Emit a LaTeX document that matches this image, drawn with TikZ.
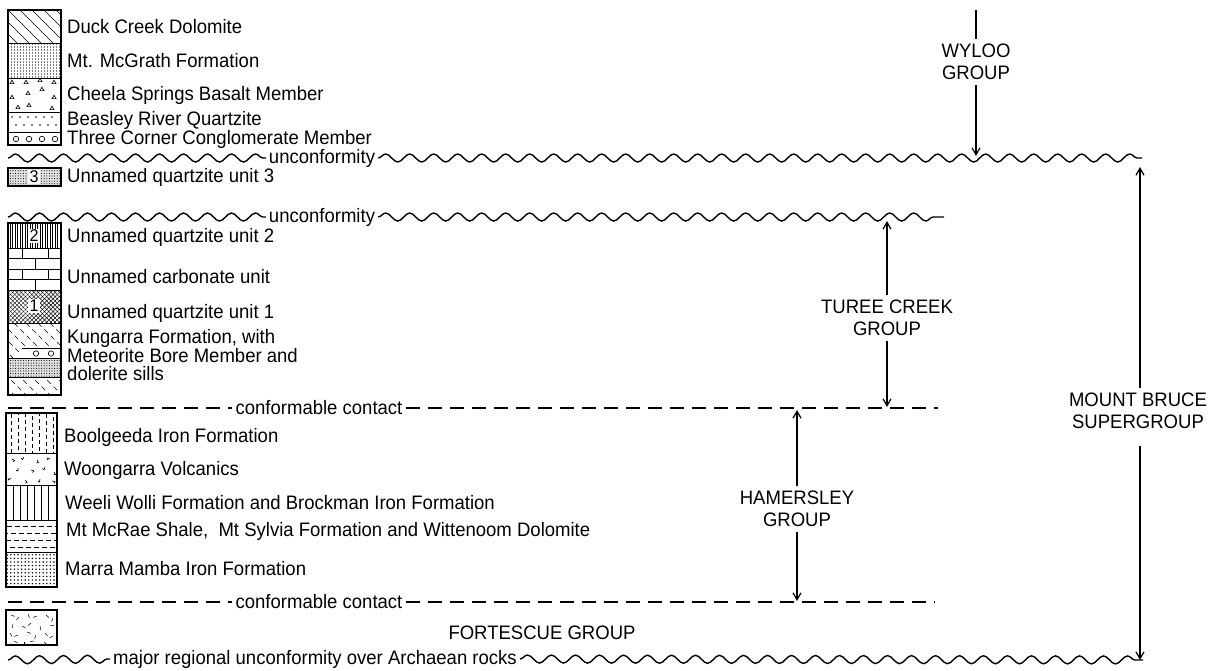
\documentclass[tikz,border=0pt]{standalone}
\usepackage{fontspec}
\setmainfont[FakeStretch=0.95]{Liberation Sans}
\usetikzlibrary{arrows.meta,decorations.pathmorphing,patterns.meta}
\begin{document}
\begin{tikzpicture}[x=1pt,y=-1pt,
  lbl/.style={font=\fontsize{19.5}{20}\selectfont, inner sep=0pt, anchor=west},
  grp/.style={font=\fontsize{19.5}{22}\selectfont, align=center, inner sep=5pt},
  num/.style={font=\fontsize{17}{17}\selectfont, fill=white, inner sep=1.2pt},
  wave/.style={line width=1.4pt, decorate, decoration={snake, segment length=24pt, amplitude=4pt}},
  contact/.style={line width=1.4pt, dash pattern=on 14pt off 8pt},
  shaft/.style={line width=1.2pt},
  arr/.style={line width=1.2pt, -{Straight Barb[length=7pt,width=8pt]}},
  boxline/.style={line width=1.3pt},
  fine/.style={line width=0.65pt},
  wlabel/.style={font=\fontsize{19.5}{20}\selectfont, inner sep=3pt}
]
\useasboundingbox (0,0) rectangle (1211,670);

% ---------------- top column (Wyloo Group) ----------------
\begin{scope}
  \clip (8,10) rectangle (61,43);
  \foreach \x in {-40,-28,...,60} \draw[fine] (\x,10) -- ++(33,33);
\end{scope}
\begin{scope}
  \clip (8,43) rectangle (61,78);
  \foreach \x in {11,14,...,59} \draw[line width=0.45pt, gray, dash pattern=on 2pt off 1pt] (\x,43) -- (\x,78);
\end{scope}
\foreach \p in {(12,82),(26,82),(40,80),(54,82),(28,93),(42,89),(12,97),(54,97),(18,107),(29,105),(52,108)}
  \draw[fine] \p ++(-2,1.6) -- ++(4,0) -- ++(-2,-3.4) -- cycle;
\foreach \x in {12,20,...,58} \fill (\x,117) circle (0.8);
\foreach \x in {16,24,...,56} \fill (\x,125) circle (0.8);
\foreach \x in {16,29,42,55} \draw[fine] (\x,139) circle (2.8);
\draw[fine] (8,43) -- (61,43) (8,78) -- (61,78) (8,112) -- (61,112) (8,132) -- (61,132);
\draw[boxline] (8,10) rectangle (61,145);

\node[lbl] (duck) at (67,27) {Duck Creek Dolomite};
\node[lbl] (mcgrath) at (67,61) {Mt. McGrath Formation};
\node[lbl] (cheela) at (67,95) {Cheela Springs Basalt Member};
\node[lbl] (beasley) at (67,120) {Beasley River Quartzite};
\node[lbl] (three) at (67,139) {Three Corner Conglomerate Member};

% ---------------- unconformity 1 ----------------
\coordinate (u1a) at (8,158);
\node[wlabel] (u1t) at (322,158) {unconformity};
\coordinate (u1b) at (1142,158);
\draw[wave] (u1a) -- (u1t.west);
\draw[wave] (u1t.east) -- (u1b);

% ---------------- unit 3 ----------------
\fill[gray!22] (8,168) rectangle (61,186);
\fill[pattern={Dots[distance=2.6pt,radius=0.55pt]}] (8,168) rectangle (61,186);
\draw[boxline] (8,168) rectangle (61,186);
\node[num] (n3) at (34,177) {3};
\node[lbl] (q3) at (67,177) {Unnamed quartzite unit 3};

% ---------------- unconformity 2 ----------------
\coordinate (u2a) at (8,217);
\node[wlabel] (u2t) at (322,217) {unconformity};
\coordinate (u2b) at (944,217);
\draw[wave] (u2a) -- (u2t.west);
\draw[wave] (u2t.east) -- (u2b);

% ---------------- Turee Creek column ----------------
\foreach \x in {10,12.5,...,60} \draw[line width=0.6pt] (\x,223) -- (\x,248);
\node[num] (n2) at (34,236) {2};
% carbonate bricks
\draw[fine] (8,258.5) -- (61,258.5) (8,269) -- (61,269) (8,279.5) -- (61,279.5);
\draw[fine] (22,248) -- (22,258.5) (48,248) -- (48,258.5) (35,258.5) -- (35,269)
            (22,269) -- (22,279.5) (48,269) -- (48,279.5) (35,279.5) -- (35,290);
% quartzite 1
\fill[pattern={Lines[angle=45,distance=3pt,line width=0.45pt]}] (8,290) rectangle (61,323);
\fill[pattern={Lines[angle=-45,distance=3pt,line width=0.45pt]}] (8,290) rectangle (61,323);
\node[num] (n1) at (34,306) {1};
% Kungarra
\begin{scope}
  \clip (8,323) rectangle (61,395);
  \foreach \x in {-70,-58,...,60} \draw[fine, dash pattern=on 5pt off 4pt] (\x,323) -- ++(72,72);
\end{scope}
\fill[white] (22,348) rectangle (61,358);
\draw[fine] (22,348) -- (61,348);
\draw[fine] (36,353.5) circle (2.7) (51,353.5) circle (2.7);
\fill[white] (8,358) rectangle (61,377);
\fill[gray!25] (8,358) rectangle (61,377);
\fill[pattern={Dots[distance=2.6pt,radius=0.55pt]}] (8,358) rectangle (61,377);
\draw[fine] (8,358) -- (61,358) (8,377) -- (61,377);
\draw[fine] (8,248) -- (61,248) (8,290) -- (61,290) (8,323) -- (61,323);
\draw[boxline] (8,223) rectangle (61,395);

\node[lbl] (q2) at (67,237) {Unnamed quartzite unit 2};
\node[lbl] (carb) at (67,277) {Unnamed carbonate unit};
\node[lbl] (q1) at (67,313) {Unnamed quartzite unit 1};
\node[lbl, align=left, font=\fontsize{19.5}{17.5}\selectfont] (kung) at (67,355) {Kungarra Formation, with\\Meteorite Bore Member and\\dolerite sills};

% ---------------- conformable contact 1 ----------------
\coordinate (c1a) at (8,408);
\node[wlabel] (c1t) at (319,408) {conformable contact};
\coordinate (c1b) at (938,408);
\draw[contact] (c1a) -- (c1t.west);
\draw[contact] (c1t.east) -- (c1b);

% ---------------- Hamersley column ----------------
\foreach \x/\ph in {11/0,18/3,25/1,32/5,39/2,46/0,53/4}
  \draw[fine, dash pattern=on 4pt off 3pt, dash phase=\ph pt] (\x,414) -- (\x,453);
\foreach \p/\a in {(12,459)/30,(24,457)/120,(37,460)/60,(50,458)/150,(18,468)/90,(31,470)/20,(45,467)/110,(54,472)/60,(11,478)/140,(25,480)/45,(40,479)/100,(52,481)/10}
  \draw[fine] \p -- ++(\a:3) -- ++(\a+110:2);
\foreach \x in {13,20,27,34,41,48} \draw[line width=0.8pt] (\x,485) -- (\x,520);
\foreach \y/\ph in {526/0,533/4,540/1,547/5}
  \draw[fine, dash pattern=on 5pt off 3pt, dash phase=\ph pt] (7,\y) -- (57,\y);
\fill[pattern={Dots[distance=3.6pt,radius=0.8pt]}] (6,552) rectangle (57,587);
\draw[fine] (6,453) -- (57,453) (6,485) -- (57,485) (6,520) -- (57,520) (6,552) -- (57,552);
\draw[boxline] (6,413) rectangle (57,587);

\node[lbl] (bool) at (64,437) {Boolgeeda Iron Formation};
\node[lbl] (woon) at (64,470) {Woongarra Volcanics};
\node[lbl] (weeli) at (65,503) {Weeli Wolli Formation and Brockman Iron Formation};
\node[lbl] (mcrae) at (66,531) {Mt McRae Shale,\ \ Mt Sylvia Formation\ and\ Wittenoom Dolomite};
\node[lbl] (marra) at (65,569) {Marra Mamba Iron Formation};

% ---------------- conformable contact 2 ----------------
\coordinate (c2a) at (8,602);
\node[wlabel] (c2t) at (319,602) {conformable contact};
\coordinate (c2b) at (935,602);
\draw[contact] (c2a) -- (c2t.west);
\draw[contact] (c2t.east) -- (c2b);

% ---------------- Fortescue ----------------
\foreach \p/\a in {(11,615)/20,(19,617)/130,(28,614)/70,(37,616)/160,(46,615)/40,(53,618)/110,
                   (13,624)/100,(22,626)/30,(31,623)/140,(40,626)/80,(50,625)/10,
                   (10,633)/60,(18,635)/160,(27,632)/20,(36,635)/110,(45,633)/50,(53,636)/150,
                   (14,641)/30,(24,642)/90,(34,641)/170,(44,642)/40}
  \draw[line width=0.5pt] \p -- ++(\a:4);
\draw[boxline] (6,610) rectangle (57,645);
\node[font=\fontsize{19.5}{20}\selectfont] (fort) at (542,633) {FORTESCUE GROUP};

% ---------------- bottom unconformity ----------------
\coordinate (u3a) at (8,660);
\node[wlabel, anchor=west] (u3t) at (110,659) {major regional unconformity over Archaean rocks};
\coordinate (u3b) at (1143,660);
\draw[wave] (u3a) -- (u3t.west);
\draw[wave] (u3t.east) -- (u3b);

% ---------------- group labels and arrows ----------------
\node[grp] (wyloo) at (976,62) {WYLOO\\GROUP};
\coordinate (wtop) at (976,10);
\coordinate (wend) at (976,156);
\draw[shaft] (wtop) -- (wyloo.north);
\draw[arr] (wyloo.south) -- (wend);

\node[grp] (turee) at (887,318) {TUREE CREEK\\GROUP};
\coordinate (ttop) at (887,221);
\coordinate (tbot) at (887,407);
\draw[arr] (turee.north) -- (ttop);
\draw[arr] (turee.south) -- (tbot);

\node[grp] (ham) at (797,509) {HAMERSLEY\\GROUP};
\coordinate (htop) at (797,410);
\coordinate (hbot) at (797,601);
\draw[arr] (ham.north) -- (htop);
\draw[arr] (ham.south) -- (hbot);

\node[grp] (mb) at (1138,411) {MOUNT BRUCE\\SUPERGROUP};
\coordinate (mtop) at (1140,167);
\coordinate (mbot) at (1140,660);
\draw[arr] (mb.north -| mtop) -- (mtop);
\draw[arr, shorten <=12pt] (mb.south -| mbot) -- (mbot);
\end{tikzpicture}
\end{document}
